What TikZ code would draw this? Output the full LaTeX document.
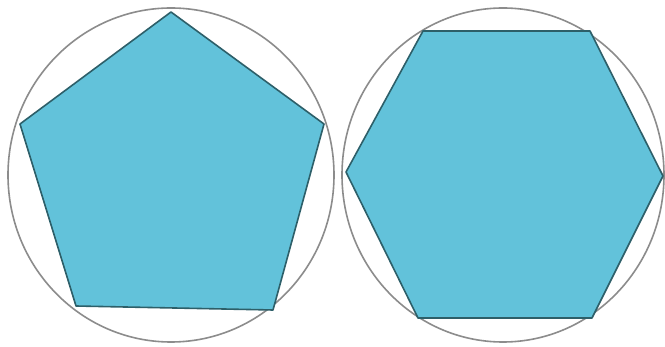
\documentclass[tikz,border=0pt]{standalone}
\begin{document}
\begin{tikzpicture}[x=1pt,y=-1pt,
  ring/.style={draw=black!45,line width=1.6pt},
  poly/.style={draw=black!25!teal!60!gray,line width=1.6pt,fill=cyan!45!teal!35!white,line join=round}]
\definecolor{polyfill}{RGB}{98,194,218}
\definecolor{polyline}{RGB}{45,95,105}
\useasboundingbox (0,0) rectangle (665,347);
\fill[white] (0,0) rectangle (665,347);
% left: circle with pentagon
\draw[ring] (171,175) ellipse [x radius=163, y radius=167];
\draw[poly,fill=polyfill,draw=polyline]
  (171,12) -- (324,124) -- (273,310) -- (76,306) -- (20,124) -- cycle;
% right: circle with hexagon
\draw[ring] (503,175) ellipse [x radius=161, y radius=167];
\draw[poly,fill=polyfill,draw=polyline]
  (423,31) -- (590,31) -- (663,176) -- (592,318) -- (418,318) -- (346,172) -- cycle;
\end{tikzpicture}
\end{document}
